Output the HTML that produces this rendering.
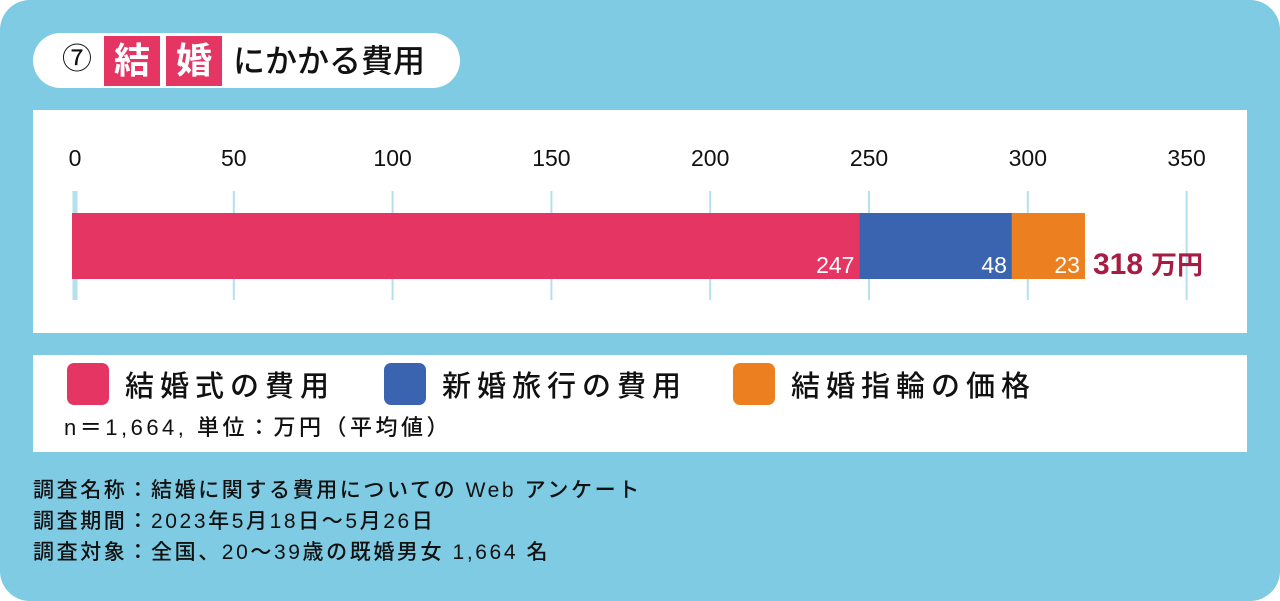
<!DOCTYPE html>
<html><head><meta charset="utf-8">
<style>
body{margin:0;width:1280px;height:601px;background:#fff;overflow:hidden;font-family:"Liberation Sans","Noto Sans CJK JP",sans-serif;}
#bg{position:absolute;left:0;top:0;width:1280px;height:601px;background:#7fcbe3;border-radius:30px;}
.abs{position:absolute;}
</style></head>
<body>
<div id="bg"></div>
<div class="abs" style="left:33px;top:33px;width:427px;height:55px;background:#fff;border-radius:28px;"></div>
<div class="abs" style="left:62px;top:40px;font-size:30px;line-height:40px;color:#111;">⑦</div>
<div class="abs" style="left:104px;top:36px;width:56px;height:50px;background:#e43563;color:#fff;font-size:36px;font-weight:bold;line-height:50px;text-align:center;">結</div>
<div class="abs" style="left:166px;top:36px;width:56px;height:50px;background:#e43563;color:#fff;font-size:36px;font-weight:bold;line-height:50px;text-align:center;">婚</div>
<div class="abs" style="left:233px;top:36px;font-size:32px;font-weight:500;line-height:50px;color:#111;">にかかる費用</div>

<svg class="abs" style="left:0;top:0" width="1280" height="601">
<rect x="33" y="110" width="1214" height="223" fill="#fff"/>
<g id="ticks"></g>
<g id="bars"></g>
</svg>

<div class="abs" style="left:33px;top:355px;width:1214px;height:97px;background:#fff;"></div>
<div class="abs" style="left:67px;top:363px;height:42px;display:flex;align-items:center;">
<span style="display:inline-block;width:42px;height:42px;border-radius:7px;background:#e43563;margin-right:16px;"></span><span style="font-size:29px;font-weight:500;letter-spacing:6px;color:#111;">結婚式の費用</span></div>
<div class="abs" style="left:384px;top:363px;height:42px;display:flex;align-items:center;">
<span style="display:inline-block;width:42px;height:42px;border-radius:7px;background:#3a63b0;margin-right:16px;"></span><span style="font-size:29px;font-weight:500;letter-spacing:6px;color:#111;">新婚旅行の費用</span></div>
<div class="abs" style="left:733px;top:363px;height:42px;display:flex;align-items:center;">
<span style="display:inline-block;width:42px;height:42px;border-radius:7px;background:#ec8020;margin-right:16px;"></span><span style="font-size:29px;font-weight:500;letter-spacing:6px;color:#111;">結婚指輪の価格</span></div>
<div class="abs" style="left:64px;top:413px;font-size:22px;font-weight:500;line-height:30px;color:#111;letter-spacing:3.5px;">n＝1,664, 単位：万円（平均値）</div>

<div class="abs" style="left:33px;top:475px;font-size:21px;font-weight:500;line-height:31px;color:#111;letter-spacing:2.6px;">
<div>調査名称：結婚に関する費用についての Web アンケート</div>
<div>調査期間：2023年5月18日～5月26日</div>
<div>調査対象：全国、20～39歳の既婚男女 1,664 名</div>
</div>

<script>
const tickValues=[0,50,100,150,200,250,300,350];
const categories=["結婚式の費用","新婚旅行の費用","結婚指輪の価格"];
const seriesValues=[247,48,23];
const seriesColors=["#e43563","#3a63b0","#ec8020"];
const totalLabel="万円";
const NS="http://www.w3.org/2000/svg";
function x(v){return 75+v*3.176;}
const tg=document.getElementById('ticks');
tickValues.forEach((t,i)=>{
  const l=document.createElementNS(NS,'line');
  l.setAttribute('x1',x(t));l.setAttribute('x2',x(t));l.setAttribute('y1',191);l.setAttribute('y2',300);
  l.setAttribute('stroke','#b5e0ee');l.setAttribute('stroke-width',i===0?5:2);
  
  
  tg.appendChild(l);
  const tx=document.createElementNS(NS,'text');
  tx.setAttribute('x',x(t));tx.setAttribute('y',166);tx.setAttribute('text-anchor','middle');
  tx.setAttribute('font-size','23');tx.setAttribute('fill','#111');
  tx.textContent=t;
  
  
  tg.appendChild(tx);
});
const bg=document.getElementById('bars');
let acc=0;
seriesValues.forEach((v,i)=>{
  const x0=i===0?72:x(acc);acc+=v;const x1=x(acc);
  const r=document.createElementNS(NS,'rect');
  r.setAttribute('x',x0);r.setAttribute('y',213);r.setAttribute('width',x1-x0);r.setAttribute('height',66);
  r.setAttribute('fill',seriesColors[i]);
  
  
  bg.appendChild(r);
  const t=document.createElementNS(NS,'text');
  t.setAttribute('x',x1-5);t.setAttribute('y',273);t.setAttribute('text-anchor','end');
  t.setAttribute('font-size','23');t.setAttribute('fill','#fff');
  t.textContent=v;
  
  
  bg.appendChild(t);
});
const total=seriesValues.reduce((a,b)=>a+b,0);
const tt=document.createElementNS(NS,'text');
tt.setAttribute('x',x(total)+8);tt.setAttribute('y',274);
tt.setAttribute('font-weight','bold');tt.setAttribute('fill','#a81c43');
tt.innerHTML='<tspan font-size="30">'+total+'</tspan><tspan font-size="26" dx="8">'+totalLabel+'</tspan>';


bg.appendChild(tt);
</script>
</body></html>
